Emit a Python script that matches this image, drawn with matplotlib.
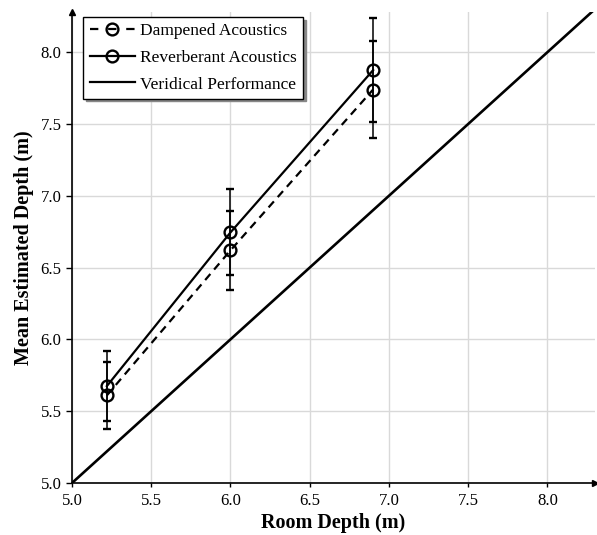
import matplotlib
matplotlib.use("Agg")
import matplotlib.pyplot as plt
from matplotlib.lines import Line2D

room_depth = [5.22, 6.0, 6.9]
dampened = [5.61, 6.62, 7.74]
dampened_err = [0.235, 0.275, 0.34]
reverberant = [5.675, 6.745, 7.875]
reverberant_err = [0.245, 0.30, 0.36]
veridical_x = [5.0, 8.3]
x_ticks = [5.0, 5.5, 6.0, 6.5, 7.0, 7.5, 8.0]
y_ticks = [5.0, 5.5, 6.0, 6.5, 7.0, 7.5, 8.0]

plt.rcParams['font.family'] = ['Liberation Serif', 'DejaVu Serif']

fig = plt.figure(figsize=(5.97, 5.35), dpi=100)
ax = fig.add_axes([0.1206, 0.0972, 0.8760, 0.8804])

ax.set_xlim(5.0, 8.3)
ax.set_ylim(5.0, 8.28)

ax.grid(True, color='#d9d9d9', linewidth=1.0, zorder=0)
ax.set_axisbelow(True)

dash = (0, (3.6, 2.6))
mk = dict(marker='o', markersize=8.5, markerfacecolor='none', markeredgewidth=1.7,
          color='black')

ax.errorbar(room_depth, dampened, yerr=dampened_err, linestyle=dash, linewidth=1.6,
            capsize=3, elinewidth=1.1, capthick=1.1, zorder=3, **mk)
ax.errorbar(room_depth, reverberant, yerr=reverberant_err, linestyle='-', linewidth=1.6,
            capsize=3, elinewidth=1.1, capthick=1.1, zorder=3, **mk)
ax.plot(veridical_x, veridical_x, color='black', linewidth=1.9, zorder=3)

ax.set_xticks(x_ticks)
ax.set_yticks(y_ticks)
ax.set_xticklabels([f'{v:.1f}' for v in x_ticks])
ax.set_yticklabels([f'{v:.1f}' for v in y_ticks])
ax.tick_params(axis='both', labelsize=12, direction='out', length=4, width=1, colors='black')
ax.tick_params(axis='x', length=3, pad=4)

for s in ['top', 'right']:
    ax.spines[s].set_visible(False)
for s in ['left', 'bottom']:
    ax.spines[s].set_linewidth(1.2)
    ax.spines[s].set_color('black')

ax.plot(1, 0, '>', color='black', markersize=5, transform=ax.transAxes, clip_on=False)
ax.plot(0, 1, '^', color='black', markersize=5, transform=ax.transAxes, clip_on=False)

ax.set_xlabel('Room Depth (m)', fontsize=14.5, fontweight='bold', labelpad=3)
ax.set_ylabel('Mean Estimated Depth (m)', fontsize=14.5, fontweight='bold', labelpad=5)

handles = [
    Line2D([], [], linestyle=(0, (3.75, 4.4)), linewidth=1.6, **mk),
    Line2D([], [], linestyle='-', linewidth=1.6, **mk),
    Line2D([], [], color='black', linewidth=1.6),
]
labels = ['Dampened Acoustics', 'Reverberant Acoustics', 'Veridical Performance']
leg = ax.legend(handles, labels, loc='upper left', bbox_to_anchor=(0.012, 1.0),
                fontsize=12.5, frameon=True, fancybox=False,
                shadow={'color': '#888888', 'alpha': 1.0}, edgecolor='black',
                framealpha=1, borderpad=0.35, labelspacing=0.6, handlelength=2.6,
                handletextpad=0.3, borderaxespad=0.3)
leg.get_frame().set_linewidth(1.0)

fig.savefig('out.png', dpi=100)
